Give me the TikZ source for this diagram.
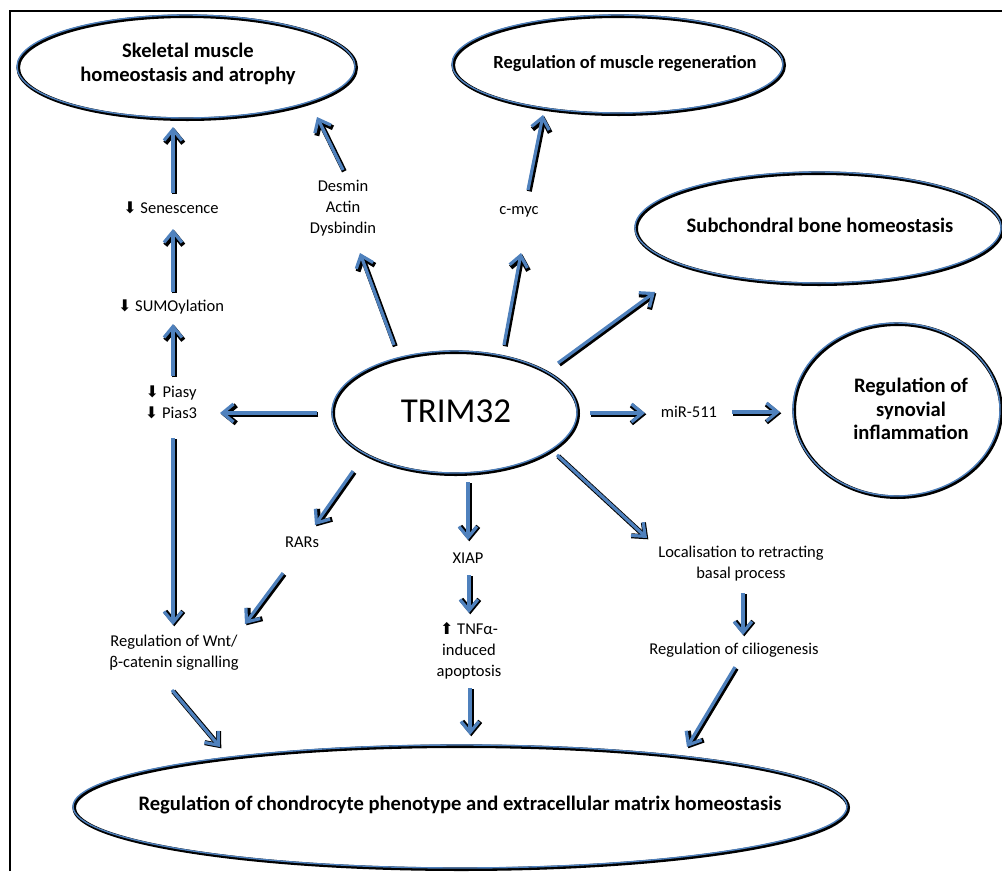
\documentclass[tikz,border=0pt]{standalone}
\usepackage{fontspec}
\setmainfont{Carlito}
\newfontfamily\symfont{DejaVu Sans}
\usetikzlibrary{arrows.meta,shapes.geometric}
\definecolor{flowblue}{RGB}{79,129,189}
% heavy arrows placed in front of the small labels
\newcommand\arrdn{{\symfont\fontsize{16}{16}\selectfont ⬇}}
\newcommand\arrup{{\symfont\fontsize{16}{16}\selectfont ⬆}}
\begin{document}
\begin{tikzpicture}[x=1pt,y=-1pt,
  small/.style={font=\fontsize{16.5}{21}\selectfont, align=center, inner sep=0pt},
  big/.style={font=\bfseries\fontsize{20.6}{23.5}\selectfont, align=center, inner sep=0pt},
  oval/.style={ellipse, draw=flowblue, line width=1.4pt, inner sep=0pt,
    preaction={draw=black, line width=3.6pt, transform canvas={shift={(1.2pt,-1.2pt)}}}},
  flow/.style={draw=flowblue, line width=3.2pt, line join=miter,
    -{Straight Barb[length=11pt,width=18pt]},
    preaction={draw=black, line width=5pt, transform canvas={shift={(1.3pt,-1.3pt)}}}}]
\useasboundingbox (0,0) rectangle (1002,871);

% frame
\draw[line width=2pt] (10,871) -- (10,11) -- (1002,11);

% outcome ellipses
\node[oval, minimum width=338pt, minimum height=103pt] (skel) at (186,66.5) {};
\node[big] (skeltxt) at (188,64) {Skeletal muscle\\homeostasis and atrophy};
\node[oval, minimum width=331pt, minimum height=98pt] (regen) at (617.5,64) {};
\node[big, font=\bfseries\fontsize{18.5}{22}\selectfont] (regentxt) at (625,64) {Regulation of muscle regeneration};
\node[oval, minimum width=366pt, minimum height=111pt] (sub) at (818,227.5) {};
\node[big] (subtxt) at (820,225) {Subchondral bone homeostasis};
\node[oval, minimum width=207pt, minimum height=173pt] (syn) at (896.5,409.5) {};
\node[big] (syntxt) at (911,409) {Regulation of\\synovial\\inflammation};
\node[oval, minimum width=774pt, minimum height=123pt] (ecm) at (460,806.5) {};
\node[big] (ecmtxt) at (460,805) {Regulation of chondrocyte phenotype and extracellular matrix homeostasis};

% central protein
\node[oval, minimum width=245pt, minimum height=122pt] (trim) at (454.5,412) {};
\node[font=\fontsize{35}{40}\selectfont, inner sep=0pt] (trimtxt) at (456,411) {TRIM32};

% intermediate labels
\node[small] (sen) at (171,208) {\arrdn\ Senescence};
\node[small] (sumo) at (171,307) {\arrdn\ SUMOylation};
\node[small] (pias) at (171,402.5) {\arrdn\ Piasy\\\arrdn\ Pias3};
\node[small] (desmin) at (343,208) {Desmin\\Actin\\Dysbindin};
\node[small] (cmyc) at (519,212) {c-myc};
\node[small] (mir) at (689,412) {miR-511};
\node[small] (rars) at (302,542) {RARs};
\node[small] (xiap) at (468,558) {XIAP};
\node[small] (tnf) at (469,651) {\arrup\ TNFα-\\induced\\apoptosis};
\node[small] (wnt) at (174,652.5) {Regulation of Wnt/\\β-catenin signalling};
\node[small] (loc) at (741,563.5) {Localisation to retracting\\basal process};
\node[small] (cilio) at (734,650) {Regulation of ciliogenesis};

% connectors
\draw[flow] ([shift={(2,-15)}]sen.center) -- ([shift={(-13,60.5)}]skel.center);
\draw[flow] ([shift={(2,-15)}]sumo.center) -- ([shift={(2,21)}]sen.center);
\draw[flow] ([shift={(2,-26.5)}]pias.center) -- ([shift={(2,17)}]sumo.center);
\draw[flow] ([shift={(-137.5,1)}]trim.center) -- ([shift={(49,10.5)}]pias.center);
\draw[flow] ([shift={(2,35.5)}]pias.center) -- ([shift={(-1,-27.5)}]wnt.center);
\draw[flow] ([shift={(-60.5,-67)}]trim.center) -- ([shift={(17,45)}]desmin.center);
\draw[flow] ([shift={(0,-38)}]desmin.center) -- ([shift={(131,50.5)}]skel.center);
\draw[flow] ([shift={(49.5,-67)}]trim.center) -- ([shift={(2,41)}]cmyc.center);
\draw[flow] ([shift={(9,-22)}]cmyc.center) -- ([shift={(-74.5,51)}]regen.center);
\draw[flow] ([shift={(103.5,-49)}]trim.center) -- ([shift={(-163,64.5)}]sub.center);
\draw[flow] ([shift={(135.5,1)}]trim.center) -- ([shift={(-44,1)}]mir.center);
\draw[flow] ([shift={(43,0)}]mir.center) -- ([shift={(-116.5,2.5)}]syn.center);
\draw[flow] ([shift={(-101.5,59)}]trim.center) -- ([shift={(13,-17)}]rars.center);
\draw[flow] ([shift={(-19,31)}]rars.center) -- ([shift={(71,-28.5)}]wnt.center);
\draw[flow] ([shift={(13.5,70)}]trim.center) -- ([shift={(0,-18)}]xiap.center);
\draw[flow] ([shift={(1,17)}]xiap.center) -- ([shift={(0,-38)}]tnf.center);
\draw[flow] ([shift={(1,37)}]tnf.center) -- ([shift={(10,-71.5)}]ecm.center);
\draw[flow] ([shift={(102.5,43)}]trim.center) -- ([shift={(-94,-25.5)}]loc.center);
\draw[flow] ([shift={(2,29.5)}]loc.center) -- ([shift={(9,-15)}]cilio.center);
\draw[flow] ([shift={(1,17)}]cilio.center) -- ([shift={(227,-59.5)}]ecm.center);
\draw[flow] ([shift={(-2,37.5)}]wnt.center) -- ([shift={(-240,-59.5)}]ecm.center);
\end{tikzpicture}
\end{document}
